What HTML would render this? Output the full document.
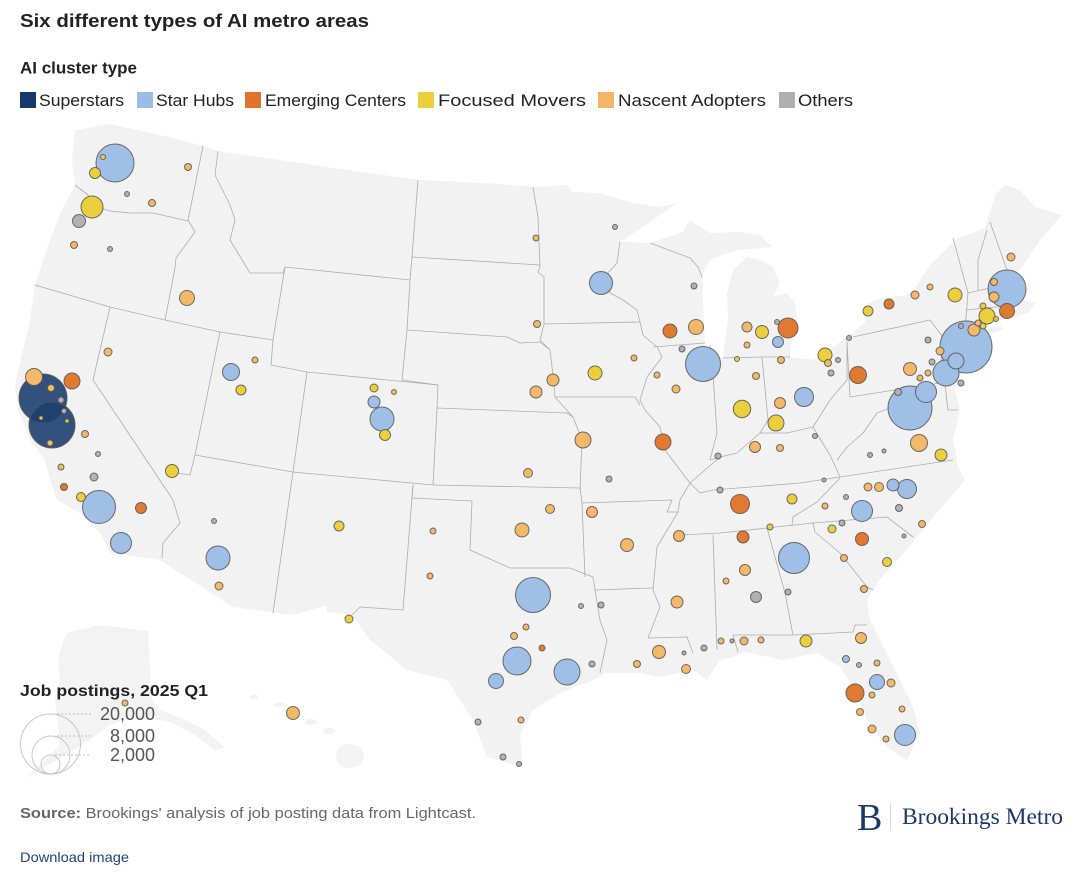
<!DOCTYPE html>
<html><head><meta charset="utf-8"><style>
html,body{margin:0;padding:0;background:#fff;}
svg{display:block;font-family:"Liberation Sans",Arial,sans-serif;}
.b{fill:none;stroke:#adadad;stroke-width:0.8;stroke-linejoin:round}
circle{stroke:#555;stroke-width:1;stroke-opacity:0.85}
.s{fill:#1d3f70;fill-opacity:0.9}
.h{fill:#9fbfe7}
.e{fill:#e07a30}
.f{fill:#ebcf3c}
.n{fill:#f3b868}
.o{fill:#b2b2b2}
</style></head><body>
<svg width="1080" height="876" viewBox="0 0 1080 876" xmlns="http://www.w3.org/2000/svg">
<rect width="1080" height="876" fill="#fff"/>
<text x="20" y="27" font-size="18.5" font-weight="bold" fill="#222" textLength="349" lengthAdjust="spacingAndGlyphs">Six different types of AI metro areas</text>
<text x="20" y="73.5" font-size="16.5" font-weight="bold" fill="#222" textLength="117" lengthAdjust="spacingAndGlyphs">AI cluster type</text>
<g font-size="16.5" fill="#222">
<rect x="20" y="92" width="16" height="16" fill="#173a6b"/><text x="39" y="106" textLength="85" lengthAdjust="spacingAndGlyphs">Superstars</text>
<rect x="137" y="92" width="16" height="16" fill="#9bbce6"/><text x="156" y="106" textLength="78" lengthAdjust="spacingAndGlyphs">Star Hubs</text>
<rect x="245" y="92" width="16" height="16" fill="#e2732b"/><text x="265" y="106" textLength="141" lengthAdjust="spacingAndGlyphs">Emerging Centers</text>
<rect x="418" y="92" width="16" height="16" fill="#ebcf3c"/><text x="438" y="106" textLength="148" lengthAdjust="spacingAndGlyphs">Focused Movers</text>
<rect x="598" y="92" width="16" height="16" fill="#f3b667"/><text x="618" y="106" textLength="148" lengthAdjust="spacingAndGlyphs">Nascent Adopters</text>
<rect x="779" y="92" width="16" height="16" fill="#b0b0b0"/><text x="798" y="106" textLength="55" lengthAdjust="spacingAndGlyphs">Others</text>
</g>

<!-- Alaska & Hawaii -->
<path fill="#f3f3f3" d="M67,633 L100,625 L148,631 L152,700 L160,710 L185,720 L205,730 L225,748 L215,750 L195,735 L170,722 L150,718 L130,718 L110,725 L90,740 L65,755 L40,770 L25,778 L45,760 L60,745 L58,725 L55,700 L60,680 L58,660 L62,645 Z"/>
<ellipse cx="254" cy="697" rx="4" ry="2.5" fill="#f3f3f3"/>
<ellipse cx="280" cy="705" rx="6" ry="2.5" fill="#f3f3f3"/>
<ellipse cx="311" cy="722" rx="6" ry="3" fill="#f3f3f3"/>
<ellipse cx="329" cy="731" rx="6" ry="3" fill="#f3f3f3"/>
<ellipse cx="350" cy="756" rx="14" ry="12" fill="#f3f3f3"/>

<!-- mainland -->
<path fill="#f2f2f2" d="M75,130 L110,124 L160,135 L203,146 L218,151 L280,160 L360,172 L420,180 L500,184 L533,187 L567,185 L572,192 L600,193 L613,197 L633,203 L660,207 L677,203 L650,222 L620,242 L650,243 L683,232 L690,220 L697,225 L710,233 L740,232 L760,235 L772,247 L740,250 L727,253 L710,260 L703,273 L703,300 L705,347 L713,357 L723,357 L728,320 L727,293 L733,270 L747,257 L760,260 L773,267 L780,283 L773,297 L787,293 L795,303 L797,320 L792,340 L790,357 L813,360 L833,347 L853,333 L865,322 L868,303 L885,297 L905,296 L915,288 L930,265 L955,240 L985,228 L995,195 L1005,185 L1020,190 L1035,207 L1062,215 L1053,225 L1040,240 L1027,260 L1015,275 L1010,285 L1020,300 L1035,303 L1030,312 L1013,317 L995,322 L975,332 L962,345 L963,370 L955,390 L960,410 L953,440 L958,467 L965,480 L948,500 L933,517 L917,537 L900,557 L877,583 L867,600 L870,620 L890,660 L913,707 L920,733 L907,760 L887,747 L867,720 L857,693 L840,667 L817,653 L783,660 L745,652 L733,657 L720,660 L707,680 L693,670 L660,677 L640,673 L607,673 L593,680 L560,693 L533,710 L520,735 L523,767 L487,757 L473,720 L447,680 L407,670 L370,640 L352,615 L327,612 L327,605 L293,615 L233,607 L160,560 L110,553 L100,533 L80,513 L57,500 L50,480 L45,460 L30,440 L18,410 L15,385 L22,355 L30,320 L35,285 L40,270 L50,240 L62,210 L75,185 L72,160 Z"/>
<path fill="#f2f2f2" d="M963,338 L1000,325 L1003,329 L968,343 Z"/>

<!-- state borders -->
<g class="b">
<polyline points="75,185 88,195 97,207 110,211 130,213 153,213 188,221"/>
<polyline points="203,146 188,220 195,232 176,258 175,268 165,320"/>
<polyline points="35,285 110,307 165,320 220,332 273,340"/>
<polyline points="218,151 215,175 230,205 235,220 230,240 250,273 283,273 285,267 273,340 271,365 307,372 438,385"/>
<polyline points="285,267 410,280"/>
<polyline points="418,180 412,257 410,280 407,330 402,380 438,385 437,408 433,485"/>
<polyline points="437,408 567,413 573,417"/>
<polyline points="412,257 540,265"/>
<polyline points="407,330 507,337 520,343 540,342 550,350"/>
<polyline points="533,187 538,217 540,267 538,272 544,277 544,324 540,340 550,350 553,375 555,397 573,417 582,440 580,490"/>
<polyline points="544,324 640,322"/>
<polyline points="620,242 617,263 608,273 610,293 623,300 637,310 640,322"/>
<polyline points="650,243 690,258 698,267 702,277"/>
<polyline points="555,397 635,397 640,405"/>
<polyline points="640,322 643,335 657,347 662,357 647,377 640,400 645,410 660,427 665,450 680,470 690,483 680,500 678,512 657,547 653,590 660,607 648,638"/>
<polyline points="653,347 705,343"/>
<polyline points="433,485 580,488"/>
<polyline points="307,372 293,472 433,485"/>
<polyline points="413,485 412,498 472,501 470,550 510,568 533,568 570,568 593,577 595,590 600,620 607,640 600,673"/>
<polyline points="413,485 403,610 360,607 352,615"/>
<polyline points="220,332 195,455 190,475 177,473"/>
<polyline points="110,307 93,380 173,500 180,523 163,543 162,558"/>
<polyline points="195,455 293,472 273,613"/>
<polyline points="580,488 582,503 585,577"/>
<polyline points="582,503 672,500 667,512 678,512"/>
<polyline points="595,590 653,588"/>
<polyline points="648,638 687,637 693,653"/>
<polyline points="713,535 717,650"/>
<polyline points="680,535 720,533 767,528 813,523 887,517 913,537"/>
<polyline points="813,523 815,532 840,553 867,587 873,590"/>
<polyline points="767,528 785,593 793,635"/>
<polyline points="738,652 733,635 793,635 853,632 855,625 867,625"/>
<polyline points="690,483 700,493 713,490 800,483 840,477 953,460"/>
<polyline points="792,525 793,517 817,502 840,478"/>
<polyline points="710,345 712,360 717,433 710,460 720,457"/>
<polyline points="690,483 705,470 720,457 737,453 760,433 787,433 813,427 822,442 830,455 840,477"/>
<polyline points="813,427 830,400 847,380 847,342"/>
<polyline points="723,358 760,357 790,357"/>
<polyline points="762,357 768,420 760,433"/>
<polyline points="847,342 850,397 940,383"/>
<polyline points="853,337 930,320 945,340 940,365 945,385 948,410 958,410"/>
<polyline points="900,390 893,407 877,413 863,433 847,447 837,460"/>
<polyline points="900,390 912,400 925,410"/>
<polyline points="953,238 968,293 965,330"/>
<polyline points="987,230 978,260 978,290"/>
<polyline points="990,222 1007,270"/>
<polyline points="968,293 1008,284"/>
<polyline points="966,310 1005,306"/>
<polyline points="990,308 992,322"/>
</g>

<!-- bubbles: large first -->
<g>
<circle class="h" cx="966" cy="347" r="26"/>
<circle class="s" cx="43" cy="398" r="24"/>
<circle class="s" cx="52" cy="425" r="23"/>
<circle class="h" cx="910" cy="408" r="22"/>
<circle class="h" cx="1007" cy="289" r="19"/>
<circle class="h" cx="115" cy="163" r="19"/>
<circle class="h" cx="703" cy="364" r="17.5"/>
<circle class="h" cx="533" cy="595" r="17.5"/>
<circle class="h" cx="99" cy="507" r="16.5"/>
<circle class="h" cx="794" cy="558" r="15.5"/>
<circle class="h" cx="517" cy="661" r="14"/>
<circle class="h" cx="946" cy="373" r="13"/>
<circle class="h" cx="567" cy="672" r="13"/>
<circle class="h" cx="382" cy="419" r="12"/>
<circle class="h" cx="218" cy="558" r="12"/>
<circle class="h" cx="601" cy="283" r="11.5"/>
<circle class="f" cx="92" cy="207" r="11"/>
<circle class="h" cx="121" cy="543" r="10.5"/>
<circle class="h" cx="926" cy="392" r="10.5"/>
<circle class="h" cx="862" cy="511" r="10.5"/>
<circle class="h" cx="905" cy="735" r="10.5"/>
<circle class="e" cx="788" cy="328" r="10"/>
<circle class="h" cx="804" cy="397" r="9.5"/>
<circle class="h" cx="907" cy="489" r="9.5"/>
<circle class="e" cx="740" cy="504" r="9.5"/>
<circle class="e" cx="855" cy="693" r="9"/>
<circle class="f" cx="742" cy="409" r="8.7"/>
<circle class="h" cx="231" cy="372" r="8.5"/>
<circle class="e" cx="858" cy="375" r="8.5"/>
<circle class="n" cx="919" cy="443" r="8.5"/>
<circle class="n" cx="34" cy="377" r="8.5"/>
<circle class="h" cx="956" cy="361" r="8"/>
<circle class="e" cx="72" cy="381" r="8"/>
<circle class="e" cx="663" cy="442" r="8"/>
<circle class="f" cx="776" cy="423" r="8"/>
<circle class="f" cx="987" cy="316" r="8"/>
<circle class="n" cx="583" cy="440" r="8"/>
<circle class="h" cx="496" cy="681" r="7.5"/>
<circle class="h" cx="877" cy="682" r="7.5"/>
<circle class="e" cx="1007" cy="311" r="7.5"/>
<circle class="n" cx="187" cy="298" r="7.5"/>
<circle class="n" cx="696" cy="327" r="7.5"/>
<circle class="e" cx="670" cy="331" r="7"/>
<circle class="f" cx="595" cy="373" r="7"/>
<circle class="f" cx="825" cy="355" r="7"/>
<circle class="f" cx="955" cy="295" r="7"/>
<circle class="n" cx="522" cy="530" r="7"/>
<circle class="e" cx="862" cy="539" r="6.5"/>
<circle class="f" cx="172" cy="471" r="6.5"/>
<circle class="f" cx="762" cy="332" r="6.5"/>
<circle class="n" cx="627" cy="545" r="6.5"/>
<circle class="n" cx="659" cy="652" r="6.5"/>
<circle class="n" cx="910" cy="369" r="6.5"/>
<circle class="n" cx="293" cy="713" r="6.5"/>
<circle class="o" cx="79" cy="221" r="6.5"/>
<circle class="h" cx="893" cy="485" r="6"/>
<circle class="h" cx="374" cy="402" r="6"/>
<circle class="e" cx="743" cy="537" r="6"/>
<circle class="f" cx="806" cy="641" r="6"/>
<circle class="f" cx="941" cy="455" r="6"/>
<circle class="n" cx="677" cy="602" r="6"/>
<circle class="n" cx="553" cy="380" r="6"/>
<circle class="n" cx="536" cy="392" r="6"/>
<circle class="n" cx="974" cy="330" r="6"/>
<circle class="h" cx="778" cy="342" r="5.5"/>
<circle class="e" cx="141" cy="508" r="5.5"/>
<circle class="f" cx="95" cy="173" r="5.5"/>
<circle class="f" cx="385" cy="435" r="5.5"/>
<circle class="n" cx="592" cy="512" r="5.5"/>
<circle class="n" cx="679" cy="536" r="5.5"/>
<circle class="n" cx="780" cy="403" r="5.5"/>
<circle class="n" cx="755" cy="447" r="5.5"/>
<circle class="n" cx="745" cy="570" r="5.5"/>
<circle class="n" cx="861" cy="638" r="5.5"/>
<circle class="o" cx="756" cy="597" r="5.5"/>
<circle class="e" cx="889" cy="304" r="5"/>
<circle class="f" cx="241" cy="390" r="5"/>
<circle class="f" cx="339" cy="526" r="5"/>
<circle class="f" cx="792" cy="499" r="5"/>
<circle class="f" cx="868" cy="311" r="5"/>
<circle class="n" cx="747" cy="327" r="5"/>
<circle class="n" cx="994" cy="297" r="5"/>
<circle class="f" cx="81" cy="497" r="4.5"/>
<circle class="f" cx="887" cy="562" r="4.5"/>
<circle class="n" cx="528" cy="473" r="4.5"/>
<circle class="n" cx="550" cy="509" r="4.5"/>
<circle class="n" cx="686" cy="669" r="4.5"/>
<circle class="n" cx="879" cy="487" r="4.5"/>
<circle class="f" cx="374" cy="388" r="4"/>
<circle class="f" cx="832" cy="529" r="4"/>
<circle class="f" cx="349" cy="619" r="4"/>
<circle class="n" cx="108" cy="352" r="4"/>
<circle class="n" cx="219" cy="586" r="4"/>
<circle class="n" cx="676" cy="389" r="4"/>
<circle class="n" cx="868" cy="487" r="4"/>
<circle class="n" cx="940" cy="351" r="4"/>
<circle class="n" cx="1011" cy="257" r="4"/>
<circle class="n" cx="915" cy="295" r="4"/>
<circle class="n" cx="744" cy="641" r="4"/>
<circle class="n" cx="891" cy="683" r="4"/>
<circle class="n" cx="872" cy="729" r="4"/>
<circle class="o" cx="94" cy="477" r="4"/>
<circle class="h" cx="846" cy="659" r="3.5"/>
<circle class="e" cx="64" cy="487" r="3.5"/>
<circle class="n" cx="514" cy="636" r="3.5"/>
<circle class="n" cx="637" cy="664" r="3.5"/>
<circle class="n" cx="188" cy="167" r="3.5"/>
<circle class="n" cx="152" cy="203" r="3.5"/>
<circle class="n" cx="74" cy="245" r="3.5"/>
<circle class="n" cx="85" cy="434" r="3.5"/>
<circle class="n" cx="51" cy="388" r="3.5"/>
<circle class="n" cx="537" cy="324" r="3.5"/>
<circle class="n" cx="781" cy="360" r="3.5"/>
<circle class="n" cx="828" cy="363" r="3.5"/>
<circle class="n" cx="756" cy="376" r="3.5"/>
<circle class="n" cx="780" cy="448" r="3.5"/>
<circle class="n" cx="994" cy="282" r="3.5"/>
<circle class="n" cx="922" cy="524" r="3.5"/>
<circle class="n" cx="844" cy="558" r="3.5"/>
<circle class="n" cx="864" cy="589" r="3.5"/>
<circle class="n" cx="860" cy="712" r="3.5"/>
<circle class="o" cx="898" cy="392" r="3.5"/>
<circle class="o" cx="899" cy="508" r="3.5"/>
<circle class="e" cx="542" cy="648" r="3"/>
<circle class="f" cx="770" cy="527" r="3"/>
<circle class="f" cx="983" cy="326" r="3"/>
<circle class="f" cx="983" cy="306" r="3"/>
<circle class="n" cx="255" cy="360" r="3"/>
<circle class="n" cx="50" cy="443" r="3"/>
<circle class="n" cx="61" cy="467" r="3"/>
<circle class="n" cx="536" cy="238" r="3"/>
<circle class="n" cx="634" cy="358" r="3"/>
<circle class="n" cx="657" cy="375" r="3"/>
<circle class="n" cx="433" cy="531" r="3"/>
<circle class="n" cx="430" cy="576" r="3"/>
<circle class="n" cx="526" cy="627" r="3"/>
<circle class="n" cx="521" cy="720" r="3"/>
<circle class="n" cx="747" cy="345" r="3"/>
<circle class="n" cx="920" cy="378" r="3"/>
<circle class="n" cx="928" cy="373" r="3"/>
<circle class="n" cx="930" cy="287" r="3"/>
<circle class="n" cx="978" cy="323" r="3"/>
<circle class="n" cx="825" cy="506" r="3"/>
<circle class="n" cx="726" cy="581" r="3"/>
<circle class="n" cx="721" cy="641" r="3"/>
<circle class="n" cx="761" cy="640" r="3"/>
<circle class="n" cx="877" cy="663" r="3"/>
<circle class="n" cx="872" cy="695" r="3"/>
<circle class="n" cx="902" cy="709" r="3"/>
<circle class="n" cx="886" cy="739" r="3"/>
<circle class="n" cx="125" cy="703" r="3"/>
<circle class="o" cx="601" cy="605" r="3"/>
<circle class="o" cx="592" cy="664" r="3"/>
<circle class="o" cx="478" cy="722" r="3"/>
<circle class="o" cx="503" cy="757" r="3"/>
<circle class="o" cx="694" cy="286" r="3"/>
<circle class="o" cx="682" cy="349" r="3"/>
<circle class="o" cx="718" cy="456" r="3"/>
<circle class="o" cx="609" cy="479" r="3"/>
<circle class="o" cx="704" cy="648" r="3"/>
<circle class="o" cx="720" cy="490" r="3"/>
<circle class="o" cx="831" cy="373" r="3"/>
<circle class="o" cx="932" cy="362" r="3"/>
<circle class="o" cx="961" cy="383" r="3"/>
<circle class="o" cx="928" cy="340" r="3"/>
<circle class="o" cx="842" cy="523" r="3"/>
<circle class="o" cx="788" cy="592" r="3"/>
<circle class="o" cx="61" cy="400" r="3"/>
<circle class="f" cx="103" cy="157" r="2.5"/>
<circle class="f" cx="737" cy="359" r="2.5"/>
<circle class="n" cx="394" cy="392" r="2.5"/>
<circle class="n" cx="996" cy="319" r="2.5"/>
<circle class="o" cx="127" cy="194" r="2.5"/>
<circle class="o" cx="110" cy="249" r="2.5"/>
<circle class="o" cx="98" cy="454" r="2.5"/>
<circle class="o" cx="64" cy="411" r="2.5"/>
<circle class="o" cx="214" cy="521" r="2.5"/>
<circle class="o" cx="615" cy="227" r="2.5"/>
<circle class="o" cx="581" cy="606" r="2.5"/>
<circle class="o" cx="519" cy="764" r="2.5"/>
<circle class="o" cx="777" cy="322" r="2.5"/>
<circle class="o" cx="838" cy="360" r="2.5"/>
<circle class="o" cx="849" cy="338" r="2.5"/>
<circle class="o" cx="815" cy="436" r="2.5"/>
<circle class="o" cx="870" cy="455" r="2.5"/>
<circle class="o" cx="846" cy="497" r="2.5"/>
<circle class="o" cx="961" cy="326" r="2.5"/>
<circle class="o" cx="859" cy="665" r="2.5"/>
<circle class="f" cx="41" cy="418" r="2"/>
<circle class="f" cx="67" cy="421" r="2"/>
<circle class="o" cx="684" cy="653" r="2"/>
<circle class="o" cx="884" cy="451" r="2"/>
<circle class="o" cx="824" cy="480" r="2"/>
<circle class="o" cx="732" cy="641" r="2"/>
<circle class="o" cx="904" cy="536" r="2"/>
</g>

<!-- size legend -->
<text x="20" y="696" font-size="16" font-weight="bold" fill="#222" textLength="188" lengthAdjust="spacingAndGlyphs">Job postings, 2025 Q1</text>
<g fill="none" stroke="#bdbdbd" stroke-width="1">
<circle cx="50.5" cy="744" r="30" style="fill:none;stroke:#bdbdbd"/>
<circle cx="51" cy="755" r="19" style="fill:none;stroke:#bdbdbd"/>
<circle cx="50.5" cy="764.5" r="9.5" style="fill:none;stroke:#bdbdbd"/>
<line x1="57" y1="714" x2="91" y2="714" stroke-dasharray="2,2"/>
<line x1="57" y1="736" x2="91" y2="736" stroke-dasharray="2,2"/>
<line x1="55" y1="755" x2="91" y2="755" stroke-dasharray="2,2"/>
</g>
<g font-size="18" fill="#555" text-anchor="end">
<text x="155" y="720">20,000</text>
<text x="155" y="742">8,000</text>
<text x="155" y="761">2,000</text>
</g>

<text x="20" y="818" font-size="15" fill="#666" textLength="456" lengthAdjust="spacingAndGlyphs"><tspan font-weight="bold">Source:</tspan> Brookings' analysis of job posting data from Lightcast.</text>
<text x="20" y="862" font-size="14" fill="#1f4480" textLength="109" lengthAdjust="spacingAndGlyphs">Download image</text>

<text x="857" y="830" font-family="'Liberation Serif',serif" font-size="38" fill="#1d3767">B</text>
<line x1="890.5" y1="803" x2="890.5" y2="831" stroke="#d3d8e3" stroke-width="1"/>
<text x="902" y="824" font-family="'Liberation Serif',serif" font-size="23.5" fill="#1d3767" textLength="161" lengthAdjust="spacingAndGlyphs">Brookings Metro</text>
</svg>
</body></html>
